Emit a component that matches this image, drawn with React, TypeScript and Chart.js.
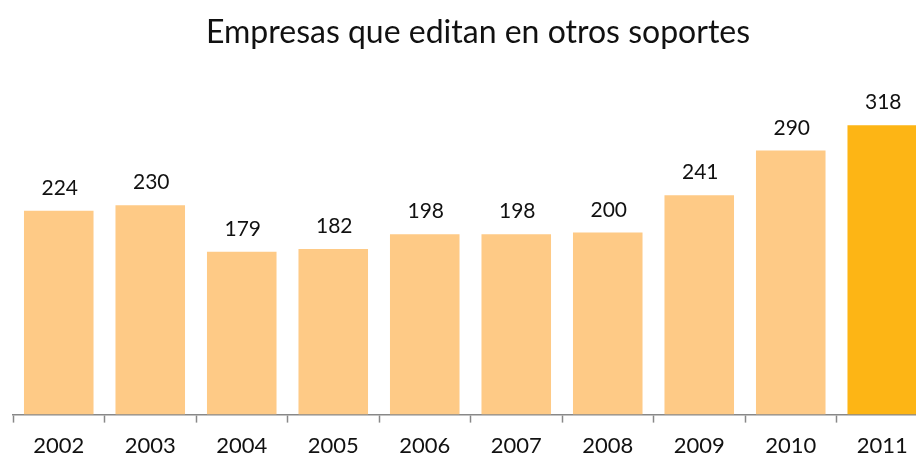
import React, { useEffect, useRef } from "react";
import { Chart, registerables } from "chart.js";

Chart.register(...registerables);

const categories = ["2002", "2003", "2004", "2005", "2006", "2007", "2008", "2009", "2010", "2011"];
const values = [224, 230, 179, 182, 198, 198, 200, 241, 290, 318];
const barColors = ["#FECA86", "#FECA86", "#FECA86", "#FECA86", "#FECA86", "#FECA86", "#FECA86", "#FECA86", "#FECA86", "#FDB515"];
const titleText = "Empresas que editan en otros soportes";

const FONT = "Lato, 'Open Sans', sans-serif";

const labelPlugin = {
  id: "valueLabels",
  afterDatasetsDraw(chart: any) {
    const ctx = chart.ctx;
    const meta = chart.getDatasetMeta(0);
    ctx.save();
    ctx.fillStyle = "#111";
    ctx.font = `21px ${FONT}`;
    ctx.textAlign = "center";
    ctx.textBaseline = "alphabetic";
    meta.data.forEach((el: any, i: number) => {
      ctx.fillText(String(values[i]), el.x + 1, el.y - 16);
    });
    ctx.restore();
  },
};

const titlePlugin = {
  id: "customTitle",
  afterDraw(chart: any) {
    const ctx = chart.ctx;
    ctx.save();
    ctx.fillStyle = "#111";
    ctx.font = `32px ${FONT}`;
    ctx.textAlign = "center";
    ctx.textBaseline = "alphabetic";
    ctx.fillText(titleText, 478, 43);
    ctx.restore();
  },
};

export default function App() {
  const ref = useRef<HTMLCanvasElement>(null);
  useEffect(() => {
    if (!ref.current) return;
    const chart = new Chart(ref.current, {
      type: "bar",
      data: {
        labels: categories,
        datasets: [
          {
            data: values,
            backgroundColor: barColors,
            barPercentage: 0.76,
            categoryPercentage: 1,
          },
        ],
      },
      options: {
        animation: false,
        responsive: false,
        maintainAspectRatio: false,
        layout: { padding: { top: 96, left: 13, right: 28, bottom: 0 } },
        plugins: { legend: { display: false }, title: { display: false }, tooltip: { enabled: false } },
        scales: {
          x: {
            offset: true,
            grid: { offset: true, drawOnChartArea: false, tickLength: 8, color: "#888", tickWidth: 1.5 },
            border: { color: "#888", width: 1.5 },
            ticks: { color: "#111", font: { size: 22, family: FONT }, padding: 10, maxRotation: 0 },
          },
          y: {
            display: false,
            min: 0,
            max: 350,
          },
        },
      },
      plugins: [labelPlugin, titlePlugin],
    });
    return () => chart.destroy();
  }, []);
  return (
    <div style={{ position: "fixed", left: 0, top: 0, width: 916, height: 458, overflow: "hidden", background: "#fff" }}>
      <canvas ref={ref} width={956} height={469} style={{ display: "block" }} />
    </div>
  );
}
